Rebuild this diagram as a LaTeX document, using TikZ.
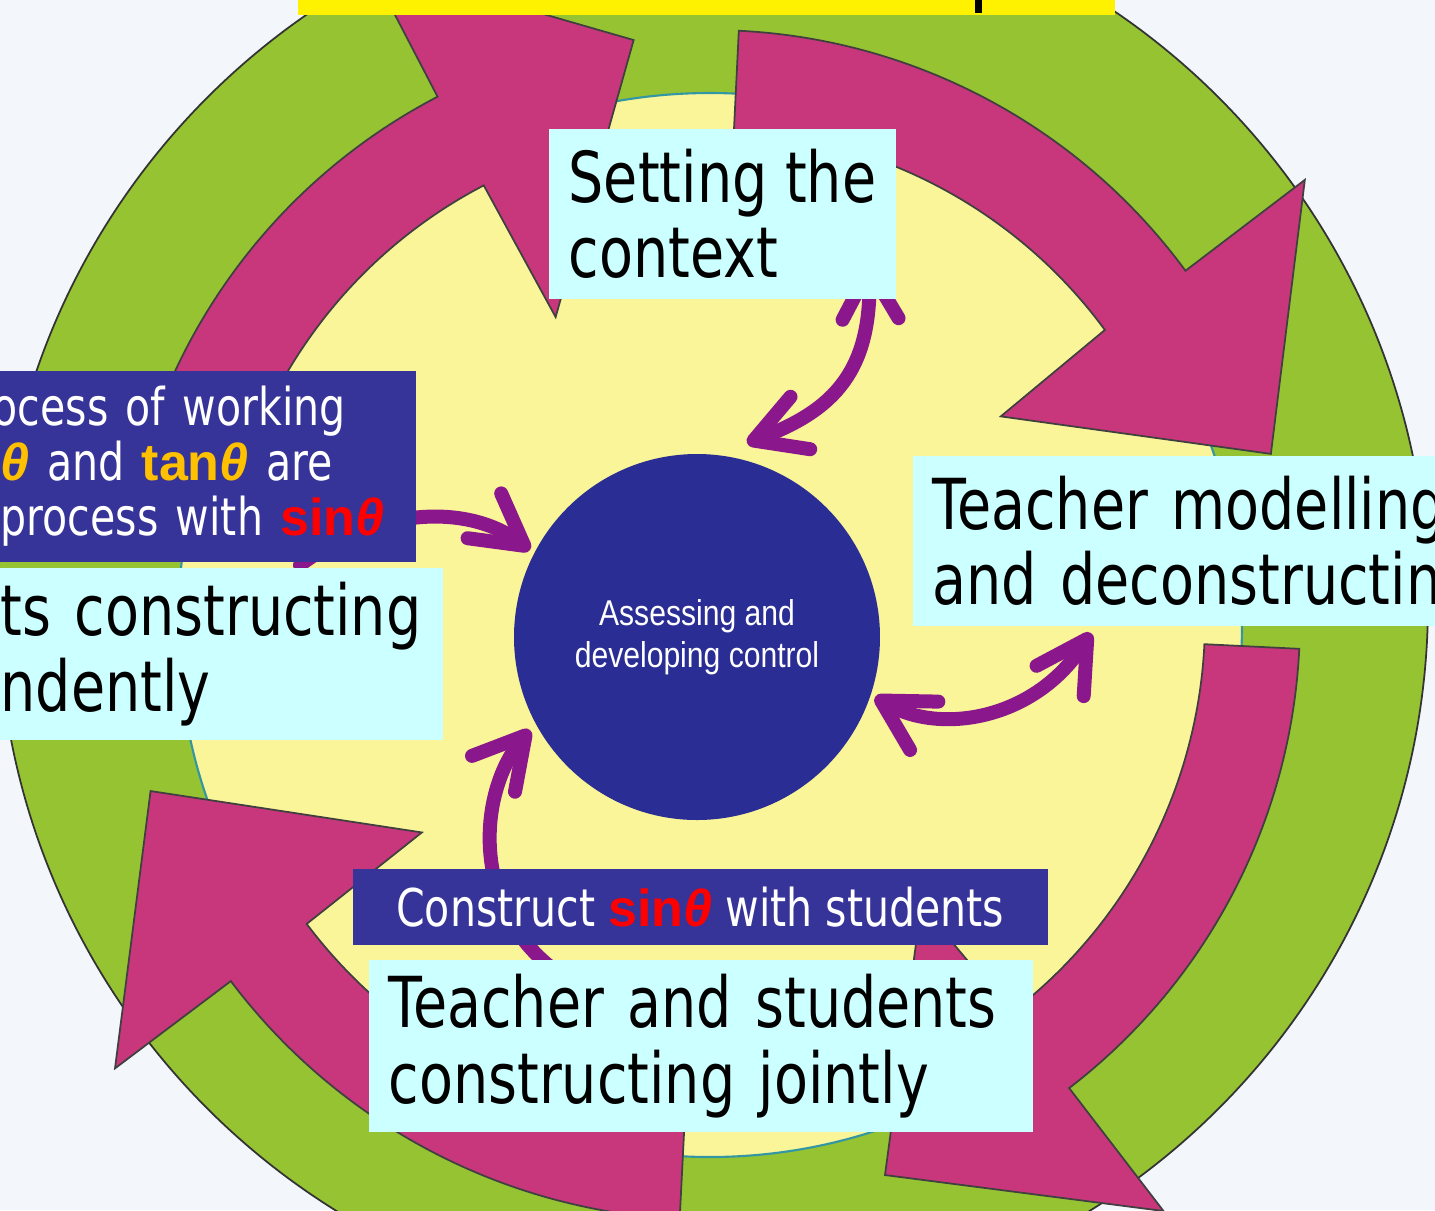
\documentclass[tikz,border=0pt]{standalone}
\usepackage{fontspec}
\setmainfont{DejaVu Sans}[FakeStretch=0.79]
\newfontfamily\ctrlfont{Liberation Sans}[FakeStretch=0.84]
\newfontfamily\trigfont{Liberation Sans}
\usetikzlibrary{arrows.meta,positioning}

\definecolor{paper}{RGB}{243,246,251}
\definecolor{ringgreen}{RGB}{149,195,50}
\definecolor{cyclepink}{RGB}{200,54,124}
\definecolor{innercream}{RGB}{250,245,152}
\definecolor{rimteal}{RGB}{50,150,165}
\definecolor{ctrlblue}{RGB}{42,46,148}
\definecolor{linkpurple}{RGB}{138,24,140}
\definecolor{noteblue}{RGB}{54,52,153}
\definecolor{stagecyan}{RGB}{204,255,255}
\definecolor{tangold}{RGB}{255,192,0}

% bold function name followed by an italic theta
\newcommand{\trig}[2]{{\color{#2}\trigfont\bfseries #1\itshape θ}}

\tikzset{
  linkbarb/.tip={Straight Barb[length=5mm, width=5.6mm, round]},
  stagebox/.style={fill=stagecyan, anchor=north west, align=left, inner xsep=2mm, inner ysep=0pt,
    font=\fontsize{20}{21.5}\selectfont},
  notebox/.style={fill=noteblue, text=white, anchor=north west, inner sep=0pt,
    font=\fontsize{14.8}{15.6}\selectfont}
}

\begin{document}
\begin{tikzpicture}[
    x=0.1mm, y=-0.1mm, % one unit per pixel, y running down
    cyclearrow/.style={fill=cyclepink, draw=black!75, line width=0.5pt, line join=miter}, % Style for the cycle arrows
    link/.style={draw=linkpurple, line width=1.4mm, line cap=round}, % Style for the purple links
    twoway/.style={link, linkbarb-linkbarb},
    oneway/.style={link, -linkbarb}
]

    \useasboundingbox (0,0) rectangle (1435,1210);
    \clip (0,0) rectangle (1435,1210);
    \fill[paper] (0,0) rectangle (1435,1210);

    % Rings
    \filldraw[fill=ringgreen, draw=black!80, line width=0.5pt] (713,603) circle[radius=715];
    \filldraw[fill=innercream, draw=rimteal, line width=0.6pt] (710,625) circle[radius=532];

    % Cycle arrows (angles run clockwise)
    \begin{scope}[shift={(710,620)}]
        \draw[cyclearrow] (190:490) -- (190:590) arc[start angle=190, end angle=242.5, radius=590]
            -- (242.5:740) -- (262.5:585) -- (243:340) -- (242.5:490)
            arc[start angle=242.5, end angle=190, radius=490] -- cycle;
        \draw[cyclearrow] (272.8:490) -- (272.8:590) arc[start angle=272.8, end angle=323.7, radius=590]
            -- (323.5:740) -- (343.5:585) -- (325:355) -- (323.7:490)
            arc[start angle=323.7, end angle=272.8, radius=490] -- cycle;
        \draw[cyclearrow] (2.8:495) -- (2.8:590) arc[start angle=2.8, end angle=52.5, radius=590]
            -- (52.5:745) -- (72.5:582) -- (53.5:355) -- (52.5:495)
            arc[start angle=52.5, end angle=2.8, radius=495] -- cycle;
        \draw[cyclearrow] (92.9:500) -- (92.9:600) arc[start angle=92.9, end angle=143, radius=600]
            -- (143:745) -- (163:585) -- (143.6:358) -- (143:505)
            arc[start angle=143, end angle=92.9, radius=505] -- cycle;
    \end{scope}

    % Centre
    \node[circle, fill=ctrlblue, minimum size=36.6mm, inner sep=0pt, text=white, align=center,
        font=\ctrlfont\fontsize{10.2}{12}\selectfont] (ctrl) at (697,637) {Assessing and\\developing control};

    % Link ends
    \coordinate (ctxend) at (869,262);
    \coordinate (ctrlnorth) at (747,443);
    \coordinate (ctrleast) at (875,697);
    \coordinate (modelend) at (1091,633);
    \coordinate (workend) at (300,565);
    \coordinate (ctrlwest) at (530,550);
    \coordinate (sinend) at (548,965);
    \coordinate (ctrlsouth) at (530,730);

    % Draw links
    \draw[twoway] (ctrlnorth) .. controls (835,410) and (872,370) .. (ctxend);
    \draw[twoway] (ctrleast) .. controls (940,735) and (1035,720) .. (modelend);
    \draw[oneway] (workend) .. controls (380,505) and (470,505) .. (ctrlwest);
    \draw[oneway] (sinend) .. controls (470,900) and (480,790) .. (ctrlsouth);

    % Define boxes
    \node[stagebox, minimum width=34.7mm, minimum height=17mm] (ctxbox) at (548,128) {Setting the\\context};
    \node[stagebox, text width=54.8mm, minimum height=17mm] (modelbox) at (912,455) {Teacher modelling\\and deconstructin};
    \node[notebox, inner xsep=2mm, text width=39.5mm, minimum height=19.1mm, align=left] (workbox) at (-20,370)
        {\hspace*{-0.8mm}ocess of working\\{\color{tangold}\trigfont\bfseries\itshape θ} and \trig{tan}{tangold} are\\process with \trig{sin}{red}};
    \node[stagebox, text width=42.2mm, minimum height=17.2mm, below right=0.5mm and 0mm of workbox.south west] (indepbox) {ts constructing\\ndently};
    \node[notebox, minimum width=69.5mm, minimum height=7.6mm, align=center] (sinbox) at (352,868) {Construct \trig{sin}{red} with students};
    \node[stagebox, text width=62.4mm, minimum height=17.2mm, below right=1.4mm and 1.6mm of sinbox.south west] (jointbox) {Teacher and students\\constructing jointly};

    % Title strip
    \fill[yellow] (298,0) rectangle (1115,15);
    \fill[black] (975,0) rectangle (982,13);

\end{tikzpicture}
\end{document}
